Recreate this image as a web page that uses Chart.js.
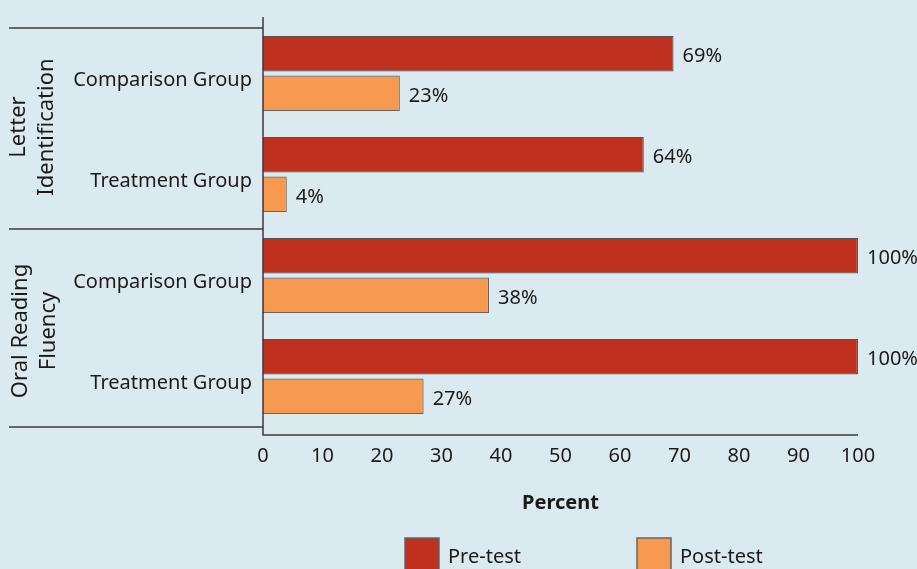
<!DOCTYPE html>
<html>
<head>
<meta charset="utf-8">
<script src="https://cdn.jsdelivr.net/npm/chart.js@4.4.0/dist/chart.umd.min.js"></script>
<style>
html, body { margin: 0; padding: 0; background: #dbeaf1; }
#wrap { width: 917px; height: 569px; }
</style>
</head>
<body>
<div id="wrap"><canvas id="chart"></canvas></div>
<script>
// data
const groupLabels = [['Letter', 'Identification'], ['Oral Reading', 'Fluency']];
const categories = ['Comparison Group', 'Treatment Group', 'Comparison Group', 'Treatment Group'];
const preTest = [69, 64, 100, 100];
const postTest = [23, 4, 38, 27];
const seriesNames = ['Pre-test', 'Post-test'];
const axisTitle = 'Percent';

const FONT = '"Noto Sans", sans-serif';
const TEXT = '#1a1a1a';
const LINE = '#3a3a3a';

const decor = {
    id: 'decor',
    afterDraw(chart) {
        const ctx = chart.ctx;
        const area = chart.chartArea;
        ctx.save();

        // axis lines (a bit longer than the plot area, like the original)
        ctx.strokeStyle = LINE;
        ctx.lineWidth = 1.5;
        ctx.beginPath();
        ctx.moveTo(area.left, area.top - 6);
        ctx.lineTo(area.left, area.bottom + 8);
        ctx.lineTo(area.right, area.bottom + 8);
        ctx.stroke();

        // group separators on the left
        ctx.lineWidth = 1.5;
        [28, 229, 427].forEach(y => {
            ctx.beginPath();
            ctx.moveTo(9, y);
            ctx.lineTo(area.left, y);
            ctx.stroke();
        });

        // value labels
        ctx.fillStyle = TEXT;
        ctx.font = '20px ' + FONT;
        ctx.textAlign = 'left';
        ctx.textBaseline = 'middle';
        chart.data.datasets.forEach((ds, i) => {
            chart.getDatasetMeta(i).data.forEach((bar, j) => {
                ctx.fillText(ds.data[j] + '%', bar.x + 9, bar.y + 3);
            });
        });

        // rotated group labels
        ctx.font = '22px ' + FONT;
        ctx.textAlign = 'center';
        ctx.textBaseline = 'alphabetic';
        const groupPos = [{ y: 127, x: [25, 53] }, { y: 331, x: [27, 55] }];
        groupLabels.forEach((lines, g) => {
            lines.forEach((line, k) => {
                ctx.save();
                ctx.translate(groupPos[g].x[k], groupPos[g].y);
                ctx.rotate(-Math.PI / 2);
                ctx.fillText(line, 0, 0);
                ctx.restore();
            });
        });

        // legend at the bottom (boxes run off the edge)
        const legendX = [405, 637];
        ctx.font = '20px ' + FONT;
        ctx.textAlign = 'left';
        ctx.textBaseline = 'middle';
        chart.data.datasets.forEach((ds, i) => {
            ctx.fillStyle = ds.backgroundColor;
            ctx.fillRect(legendX[i], 538, 34, 40);
            ctx.strokeStyle = '#666';
            ctx.lineWidth = 1.5;
            ctx.strokeRect(legendX[i], 538, 34, 40);
            ctx.fillStyle = TEXT;
            ctx.fillText(ds.label, legendX[i] + 43, 557);
        });

        ctx.restore();
    }
};

new Chart(document.getElementById('chart'), {
    type: 'bar',
    data: {
        labels: categories,
        datasets: [{
            label: seriesNames[0],
            data: preTest,
            backgroundColor: '#c0301e',
            borderColor: '#555',
            borderWidth: 1.2,
            categoryPercentage: 0.784,
            barPercentage: 0.9
        }, {
            label: seriesNames[1],
            data: postTest,
            backgroundColor: '#f7994e',
            borderColor: '#666',
            borderWidth: 1.2,
            categoryPercentage: 0.784,
            barPercentage: 0.9
        }]
    },
    options: {
        indexAxis: 'y',
        responsive: true,
        maintainAspectRatio: false,
        animation: false,
        layout: { padding: { top: 19, right: 59, left: 0, bottom: 0 } },
        plugins: {
            legend: { display: false },
            tooltip: { enabled: false }
        },
        scales: {
            x: {
                min: 0,
                max: 100,
                ticks: {
                    stepSize: 10,
                    padding: 17,
                    color: TEXT,
                    font: { family: FONT, size: 20 }
                },
                grid: { display: false, drawTicks: false },
                border: { display: false },
                title: {
                    display: true,
                    text: axisTitle,
                    color: TEXT,
                    font: { family: FONT, size: 20, weight: 'bold' },
                    padding: { top: 0, bottom: 54 }
                },
                afterFit(scale) { scale.height = 142; }
            },
            y: {
                ticks: {
                    padding: 11,
                    labelOffset: 7,
                    color: TEXT,
                    font: { family: FONT, size: 20 }
                },
                grid: { display: false, drawTicks: false },
                border: { display: false },
                afterFit(scale) { scale.width = 263; }
            }
        }
    },
    plugins: [decor]
});
</script>
</body>
</html>
